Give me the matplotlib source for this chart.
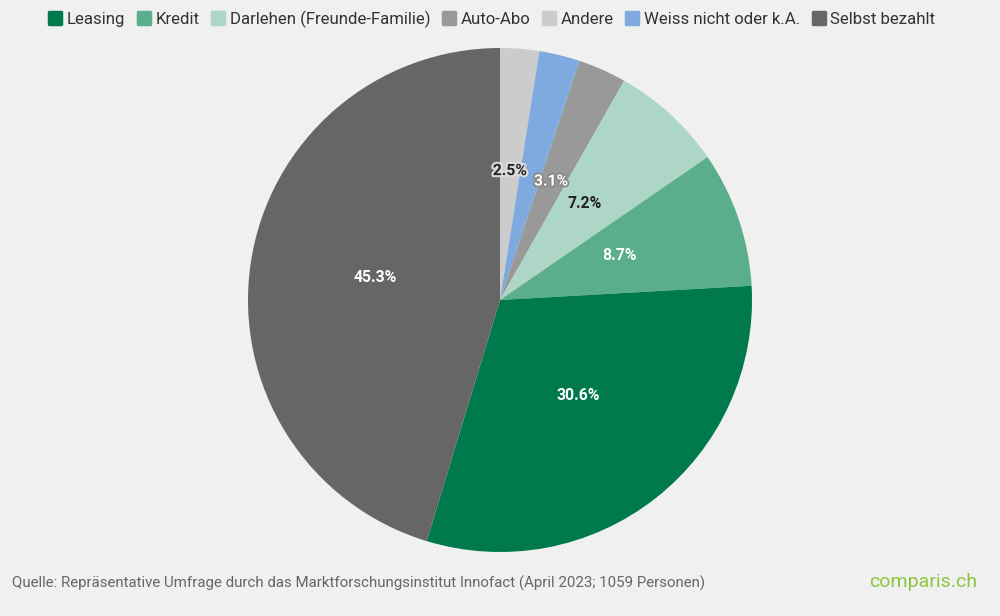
import matplotlib.pyplot as plt
from matplotlib.lines import Line2D
from matplotlib.markers import MarkerStyle
import matplotlib.patheffects as pe
import numpy as np

plt.rcParams['font.family'] = ['Roboto', 'DejaVu Sans']

# Daten (im Uhrzeigersinn ab 12 Uhr)
categories = ['Andere', 'Weiss nicht oder k.A.', 'Auto-Abo', 'Darlehen (Freunde-Familie)',
              'Kredit', 'Leasing', 'Selbst bezahlt']
shares = [2.5, 2.6, 3.1, 7.2, 8.7, 30.6, 45.3]
labels = ['2.5%', '', '3.1%', '7.2%', '8.7%', '30.6%', '45.3%']
colors = ['#cccccc', '#7eaadf', '#999999', '#aed6c6', '#5bae8c', '#007a4d', '#666666']
label_colors = ['#222222', '#ffffff', '#ffffff', '#222222', '#ffffff', '#ffffff', '#ffffff']
legend_order = ['Leasing', 'Kredit', 'Darlehen (Freunde-Familie)', 'Auto-Abo', 'Andere',
                'Weiss nicht oder k.A.', 'Selbst bezahlt']

bg = '#f0f0f0'
fig = plt.figure(figsize=(10, 6.16), dpi=100, facecolor=bg)
ax = fig.add_axes([0.248, 64 / 616, 0.504, 504 / 616])
ax.set_facecolor(bg)

wedges, _ = ax.pie(shares, colors=colors, startangle=90, counterclock=False, radius=1,
                   wedgeprops=dict(linewidth=0))
ax.set_xlim(-1, 1)
ax.set_ylim(-1, 1)
ax.set_aspect('equal')
ax.axis('off')

# Prozentwerte in der Mitte der Segmente
for w, lab, lc in zip(wedges, labels, label_colors):
    if not lab:
        continue
    mid = np.deg2rad((w.theta1 + w.theta2) / 2)
    x, y = 0.5 * np.cos(mid), 0.5 * np.sin(mid) + 0.015
    txt = ax.text(x, y, lab, ha='center', va='center', fontsize=11.3, fontweight='bold', color=lc)
    if lab == '2.5%':
        txt.set_path_effects([pe.withStroke(linewidth=3, foreground='#dddddd')])
    elif lab == '3.1%':
        txt.set_path_effects([pe.withStroke(linewidth=2.5, foreground='#888888')])

# Legende
col = dict(zip(categories, colors))
handles = [Line2D([], [], linestyle='none',
                  marker=MarkerStyle('s', joinstyle='round'), markersize=9,
                  markerfacecolor=col[c], markeredgecolor=col[c], markeredgewidth=2.5)
           for c in legend_order]
fig.legend(handles, legend_order, loc='center', bbox_to_anchor=(0.492, 1 - 19 / 616), ncol=7,
           frameon=False, fontsize=12.1, handlelength=0.8, handletextpad=0.3, columnspacing=0.7,
           labelcolor='#333333')

fig.text(0.012, 1 - 583 / 616,
         'Quelle: Repräsentative Umfrage durch das Marktforschungsinstitut Innofact (April 2023; 1059 Personen)',
         ha='left', va='center', fontsize=10.8, color='#666666')
fig.text(0.977, 1 - 582 / 616, 'comparis.ch', ha='right', va='center', fontsize=14, color='#8cc63f')

fig.savefig('out.png', dpi=100, facecolor=bg)
